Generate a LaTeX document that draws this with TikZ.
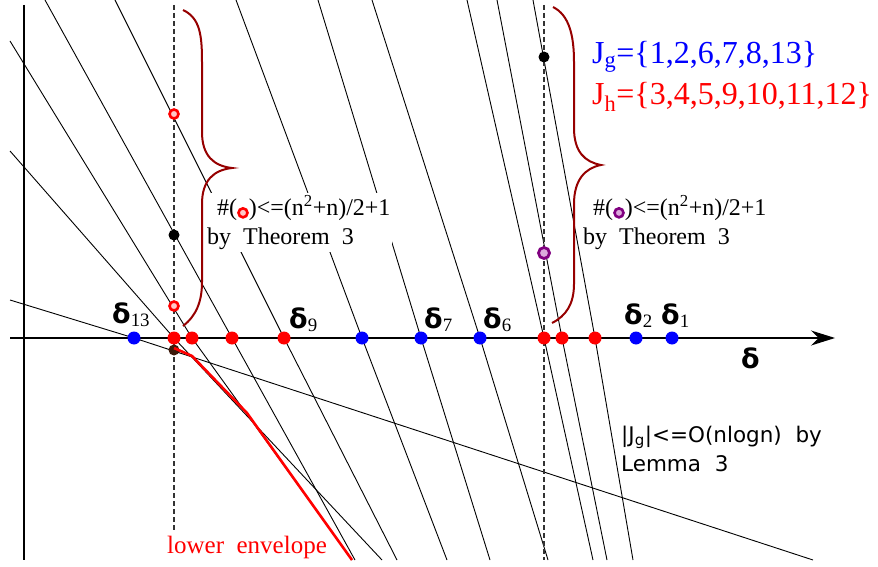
\documentclass[tikz,border=0pt]{standalone}
\usepackage{fontspec}
\setmainfont{Liberation Serif}
\newfontfamily\dltfont{DejaVu Sans}
\newfontfamily\lemfont{DejaVu Sans}
\usetikzlibrary{arrows.meta}

\definecolor{bracered}{RGB}{150,0,0}
\definecolor{ringpink}{RGB}{255,200,200}
\definecolor{ringpurple}{RGB}{128,0,128}
\definecolor{ringplum}{RGB}{220,170,220}
\definecolor{envdot}{RGB}{60,25,10}

\newcommand{\dlt}[1]{{\dltfont\bfseries δ}\textsubscript{#1}}
\newcommand{\ringmark}[2]{\tikz[baseline=-0.6ex]\node[circle, draw=#1, fill=#2, line width=2.6pt, inner sep=0pt, minimum size=9pt] {};}

\tikzset{
    axis/.style={line width=1.1pt, draw=black},
    dualline/.style={line width=0.9pt, draw=black},
    guide/.style={dash pattern=on 5pt off 3pt, line width=1.4pt, draw=black!80},
    gdot/.style={circle, fill=blue, inner sep=0pt, minimum size=13pt},
    hdot/.style={circle, fill=red, inner sep=0pt, minimum size=13pt},
    kdot/.style={circle, fill=black, inner sep=0pt, minimum size=11pt},
    hring/.style={circle, draw=red, fill=ringpink, line width=2.6pt, inner sep=0pt, minimum size=9pt},
    pring/.style={circle, draw=ringpurple, fill=ringplum, line width=2.8pt, inner sep=0pt, minimum size=11pt},
    bracket/.style={draw=bracered, line width=2pt},
    envelope/.style={draw=red, line width=2.6pt, line join=round},
    note/.style={fill=white, align=left, inner sep=2pt, font=\fontsize{24}{29}\selectfont},
    dlabel/.style={anchor=base west, inner sep=0pt, font=\fontsize{27}{30}\selectfont}
}

\begin{document}
\begin{tikzpicture}[x=1pt, y=-1pt]
    \useasboundingbox (0,0) rectangle (878,567);

    % Assi
    \draw [axis] (24,5) -- (24,560);
    \draw [axis, -{Stealth[length=24pt, width=15pt]}] (10,338) -- (835,338);

    % Rette: estremo alto, punto sull'asse, estremo basso
    \foreach \ax/\ay/\mx/\bx/\by in {10/300/134/813/560, 10/151/174/382/560, 10/41/192/352/560,
        45/0/232/355/560, 115/0/284/397/560, 236/0/362/447/560, 318/0/421/490/560,
        372/0/480/548/560, 467/0/544/593/560, 497/0/562/607/560, 533/0/595/633/560}
        \draw [dualline] (\ax,\ay) -- (\mx,338) -- (\bx,\by);

    % Verticali tratteggiate
    \draw [guide] (174,5) -- (174,532);
    \draw [guide] (544,5) -- (544,560);

    % Testi
    \node (thmL) [note, anchor=north west] at (205,193) {\hspace{10pt}\#(\ringmark{red}{ringpink})<=(n\textsuperscript{2}+n)/2+1\\by\ \ Theorem\ \ 3};
    \node (thmR) [note, anchor=north west] at (581,193) {\hspace{10pt}\#(\ringmark{ringpurple}{ringplum})<=(n\textsuperscript{2}+n)/2+1\\by\ \ Theorem\ \ 3};
    \node (jg) [anchor=base west, inner sep=0pt, text=blue, font=\fontsize{32}{38}\selectfont] at (592,64) {J\textsubscript{g}=\{1,2,6,7,8,13\}};
    \node (jh) [anchor=base west, inner sep=0pt, text=red, font=\fontsize{32}{38}\selectfont] at (592,105) {J\textsubscript{h}=\{3,4,5,9,10,11,12\}};
    \node (lemma) [anchor=north west, align=left, inner sep=0pt, font=\lemfont\fontsize{21.5}{29}\selectfont] at (621,426) {|J\textsubscript{g}|<=O(nlogn)\ \ by\\Lemma\ \ 3};
    \node (envtxt) [anchor=base west, inner sep=0pt, text=red, font=\fontsize{25}{30}\selectfont] at (167,553) {lower\ \ envelope};

    % Etichette delta
    \node (l13) [dlabel] at (112,323) {\dlt{13}};
    \node (l9) [dlabel] at (289,328) {\dlt{9}};
    \node (l7) [dlabel] at (424,328) {\dlt{7}};
    \node (l6) [dlabel] at (483,328) {\dlt{6}};
    \node (l2) [dlabel] at (624,324) {\dlt{2}};
    \node (l1) [dlabel] at (661,324) {\dlt{1}};
    \node (ldelta) [anchor=base west, inner sep=0pt, font=\dltfont\bfseries\fontsize{27}{30}\selectfont] at (741,368) {δ};

    % Inviluppo inferiore
    \node (e0) [kdot, fill=envdot] at (174,350) {};
    \draw [envelope] (174,348) -- (192,356) -- (247,413) -- (352,560);

    % Punti sull'asse
    \foreach \x/\n in {134/13, 362/8, 421/7, 480/6, 636/2, 672/1}
        \node (g\n) [gdot] at (\x,338) {};
    \foreach \x/\n in {174/12, 192/11, 232/10, 284/9, 544/5, 562/4, 595/3}
        \node (h\n) [hdot] at (\x,338) {};

    % Punti sulle verticali
    \node (k1) [kdot] at (174,235) {};
    \node (k2) [kdot] at (544,57) {};
    \node (r1) [hring] at (174,114) {};
    \node (r2) [hring] at (174,306) {};
    \node (p1) [pring] at (544,253) {};

    % Parentesi graffe
    \draw [bracket] (183,10) .. controls (200,18) and (202,35) .. (202,62) -- (202,132)
        .. controls (202,156) and (214,166) .. (232,168) .. controls (214,170) and (202,180) .. (202,204)
        -- (202,282) .. controls (202,302) and (196,316) .. (183,326);
    \draw [bracket] (553,7) .. controls (569,15) and (574,35) .. (574,62) -- (574,128)
        .. controls (574,152) and (585,162) .. (601,165) .. controls (585,168) and (574,180) .. (574,204)
        -- (574,284) .. controls (574,304) and (566,316) .. (552,323);
\end{tikzpicture}
\end{document}
